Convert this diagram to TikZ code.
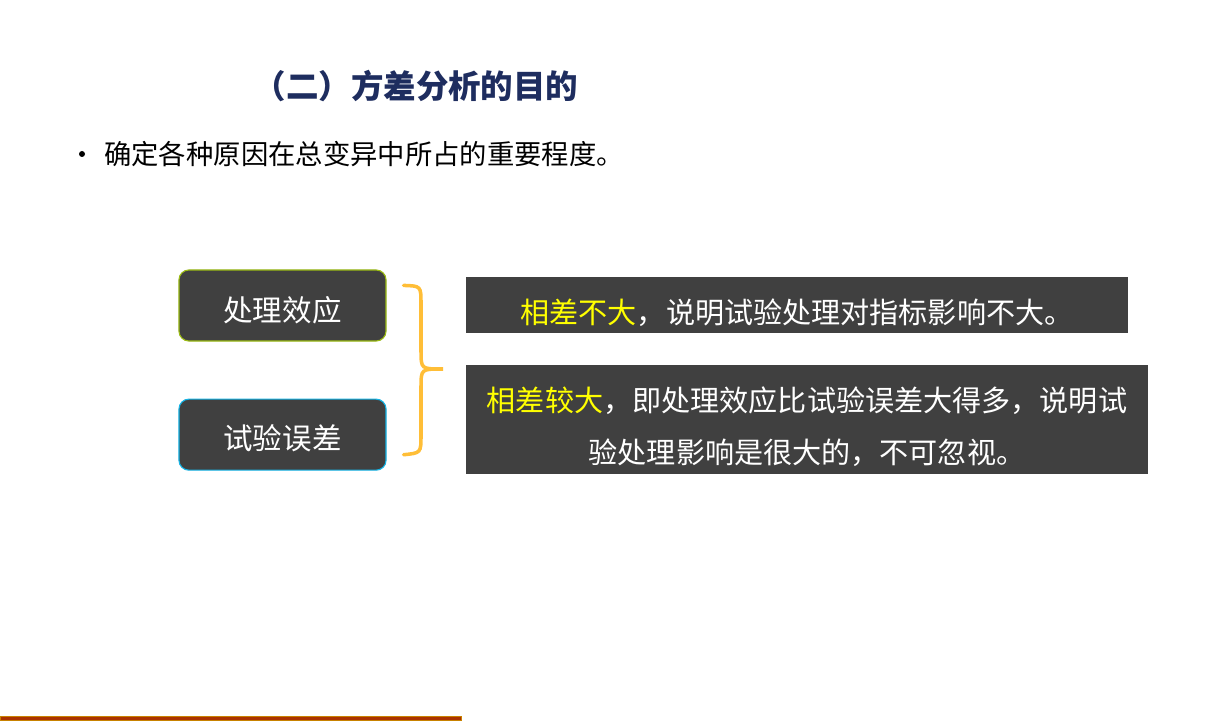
\documentclass[tikz,border=0pt]{standalone}
\usepackage{fontspec}
\setmainfont{Noto Sans CJK SC}
\usepackage{tikz}
\usetikzlibrary{positioning,calc}
\definecolor{boxfill}{RGB}{64,64,64}
\definecolor{titleblue}{RGB}{30,45,95}
\definecolor{limeedge}{RGB}{155,187,20}
\definecolor{cyanedge}{RGB}{20,180,230}
\definecolor{bracegold}{RGB}{255,190,55}
\definecolor{barred}{RGB}{170,50,0}
\definecolor{baredge}{RGB}{200,130,0}
\definecolor{hiyellow}{RGB}{255,255,0}
\tikzset{
  labelbox/.style={rectangle, rounded corners=7pt, fill=boxfill, line width=0.8pt,
    minimum width=5.175cm, minimum height=1.775cm, inner sep=0pt, text=white,
    font=\fontsize{21}{25}\selectfont},
  notebox/.style={rectangle, fill=boxfill, inner sep=0pt, text=white,
    font=\fontsize{20.7}{36.9}\selectfont},
  bracepath/.style={draw=bracegold, line width=2.5pt, line cap=round},
}
\newcommand{\hl}[1]{\textcolor{hiyellow}{#1}}
\newcommand{\dropby}[2]{\raisebox{-#1}[\height][\depth]{#2}}

\begin{document}
\begin{tikzpicture}[x=0.025cm, y=-0.025cm]
\useasboundingbox (0,0) rectangle (1210,721);

\node[font=\fontsize{23.1}{27}\selectfont\bfseries, text=titleblue] (T) at (416,86) {（二）方差分析的目的};
\node[circle, fill=black, inner sep=0pt, minimum size=0.15cm] (dot) at (82,154) {};
\node[font=\fontsize{19.45}{23}\selectfont, anchor=west, inner sep=0pt] (P) at (104,154) {确定各种原因在总变异中所占的重要程度。};

\node[labelbox, draw=limeedge] (A) at (282.5,305.5) {\dropby{0.12cm}{处理效应}};
\node[labelbox, draw=cyanedge, below=1.425cm of A] (B) {\dropby{0.09cm}{试验误差}};

\node[notebox, minimum width=16.55cm, minimum height=1.4cm] (N1) at (797,305)
  {\dropby{0.2cm}{\hl{相差不大}，说明试验处理对指标影响不大。}};
\node[notebox, minimum width=17.05cm, minimum height=2.725cm] (N2) at (807,419.5)
  {\dropby{0.19cm}{\begin{tabular}{@{}c@{}}
    \hl{相差较大}，即处理效应比试验误差大得多，说明试\\
    验处理影响是很大的，不可忽视。\end{tabular}}};

% brace between the two boxes and the notes
\coordinate (bt) at ($(A.north east)+(17,16)$);
\coordinate (bb) at ($(B.south east)+(17,-16)$);
\coordinate (tip) at (443,369);
\draw[bracepath] (bt) .. controls (421,286) .. (421,304) -- (421,351)
  .. controls (421,369) .. (tip) .. controls (421,369) .. (421,387)
  -- (421,435) .. controls (421,453) .. (bb);

\fill[barred, draw=baredge, line width=0.6pt] (0.5,716) rectangle (461,720.5);

\end{tikzpicture}
\end{document}
